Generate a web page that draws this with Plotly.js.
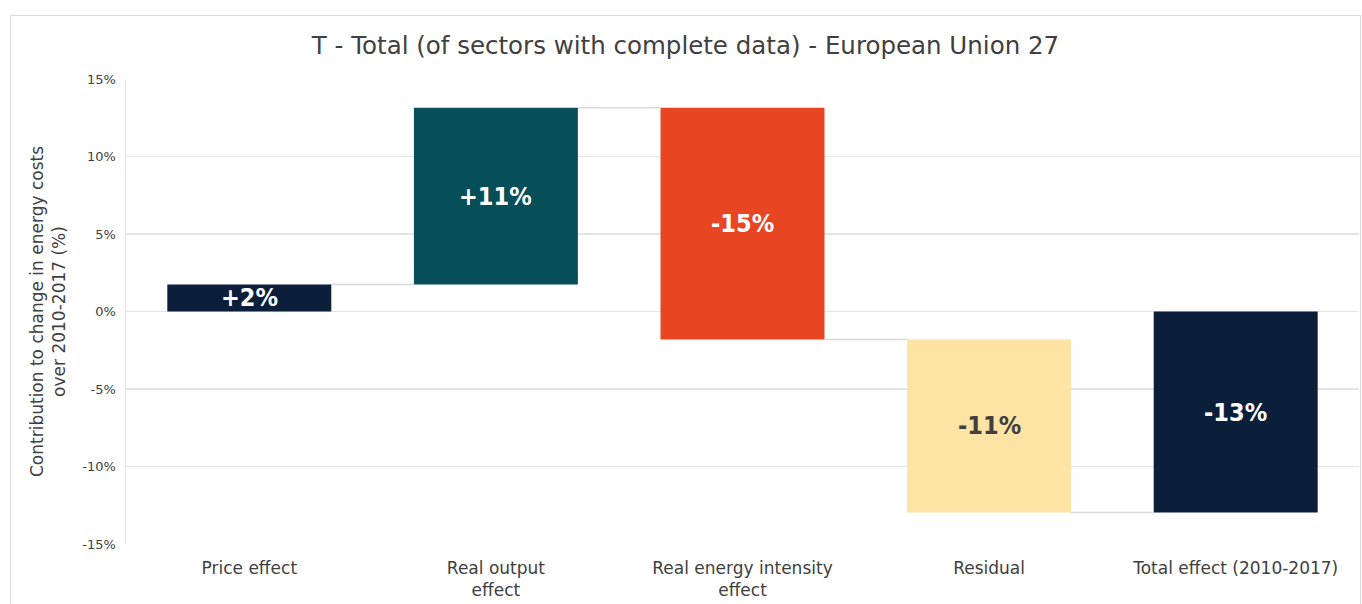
<!DOCTYPE html>
<html>
<head>
<meta charset="utf-8">
<script src="https://cdn.plot.ly/plotly-3.0.1.min.js"></script>
<style>
  body { margin: 0; background: #fff; }
  #chart { position: absolute; left: 10px; top: 15px; width: 1351px; height: 600px;
           border: 1px solid #dadada; box-sizing: border-box; }
</style>
</head>
<body>
<div id="chart"></div>
<script>
const kategorien = ["Price effect", "Real output<br>effect", "Real energy intensity<br>effect", "Residual", "Total effect (2010-2017)"];
const beitraege = [1.75, 11.4, -14.95, -11.17, -12.97];
const istSumme = [false, false, false, false, true];
const beschriftung = ["+2%", "+11%", "-15%", "-11%", "-13%"];
const farben = ["#0b1f3b", "#074f58", "#e84522", "#fde3a4", "#0b1f3b"];
const textFarben = ["#ffffff", "#ffffff", "#ffffff", "#404040", "#ffffff"];
const yTicks = [-15, -10, -5, 0, 5, 10, 15];
const yTickText = ["-15%", "-10%", "-5%", "0%", "5%", "10%", "15%"];

// Basis und Endstand jedes Balkens
const basis = [];
const hoehe = [];
const stand = [];
let summe = 0;
for (let i = 0; i < beitraege.length; i++) {
  if (istSumme[i]) {
    basis.push(0);
    hoehe.push(beitraege[i]);
    summe = beitraege[i];
  } else {
    basis.push(summe);
    hoehe.push(beitraege[i]);
    summe += beitraege[i];
  }
  stand.push(summe);
}

const xPos = kategorien.map((k, i) => i);
const breite = 0.665;
const schrift = "DejaVu Sans, sans-serif";

const balken = {
  type: "bar",
  x: xPos,
  y: hoehe,
  base: basis,
  width: breite,
  marker: { color: farben, line: { width: 0 } },
  hoverinfo: "skip"
};

// Verbindungslinien zwischen den Balken
const verbinder = [];
for (let i = 0; i < stand.length - 1; i++) {
  verbinder.push({
    type: "scatter",
    mode: "lines",
    x: [xPos[i] + breite / 2, xPos[i + 1] - breite / 2],
    y: [stand[i], stand[i]],
    line: { color: "#d9d9d9", width: 1.5 },
    hoverinfo: "skip"
  });
}

// Beschriftung mittig im Balken (nicht verkleinert)
const etiketten = xPos.map((x, i) => ({
  x: x,
  y: basis[i] + hoehe[i] / 2,
  xref: "x",
  yref: "y",
  text: "<b>" + beschriftung[i] + "</b>",
  showarrow: false,
  font: { family: "DejaVu Sans Condensed, DejaVu Sans, sans-serif", size: 25, color: textFarben[i] }
}));

const layout = {
  width: 1349,
  height: 598,
  margin: { l: 115, r: 1, t: 63, b: 70 },
  paper_bgcolor: "#ffffff",
  plot_bgcolor: "#ffffff",
  showlegend: false,
  font: { family: schrift, color: "#404040" },
  title: {
    text: "T - Total (of sectors with complete data) - European Union 27",
    font: { size: 24.5, color: "#404040" },
    x: 0.5, xanchor: "center", y: 0.95, yanchor: "middle"
  },
  annotations: etiketten,
  xaxis: {
    tickmode: "array",
    tickvals: xPos,
    ticktext: kategorien,
    range: [-0.5, kategorien.length - 0.5],
    showgrid: false,
    zeroline: false,
    showline: false,
    ticks: "",
    tickfont: { size: 17, color: "#404040" },
    ticklabelstandoff: 12
  },
  yaxis: {
    range: [-15, 15],
    tickmode: "array",
    tickvals: yTicks,
    ticktext: yTickText,
    showgrid: true,
    gridcolor: "#e4e4e4",
    gridwidth: 1.5,
    zeroline: true,
    zerolinecolor: "#e4e4e4",
    zerolinewidth: 1.5,
    showline: true,
    linecolor: "#e4e4e4",
    linewidth: 1.5,
    tickfont: { size: 13, color: "#404040" },
    ticklabelstandoff: 6,
    title: {
      text: "Contribution to change in energy costs<br>over 2010-2017 (%)",
      font: { size: 17, color: "#404040" },
      standoff: 12
    }
  }
};

Plotly.newPlot("chart", [balken, ...verbinder], layout, { displayModeBar: false, staticPlot: true });
</script>
</body>
</html>
